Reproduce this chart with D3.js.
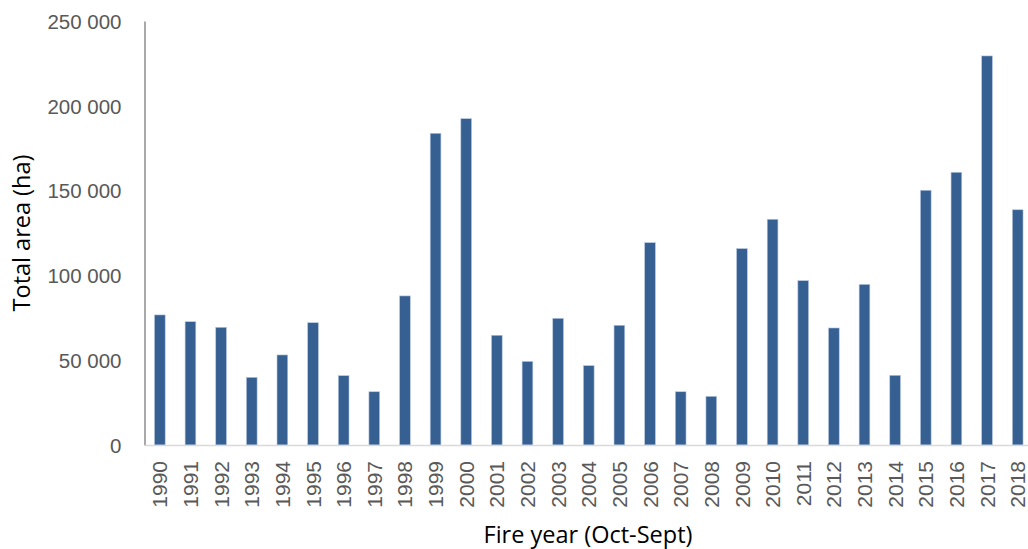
<!DOCTYPE html>
<html>
<head>
<meta charset="utf-8">
<script src="https://cdn.jsdelivr.net/npm/d3@7"></script>
<style>
  body { margin: 0; background: #fff; }
  svg { display: block; font-family: "Open Sans", sans-serif; }
</style>
</head>
<body>
<div id="chart"></div>
<script>
// fire years (Oct-Sept) and total burnt area in hectares
var years = ["1990", "1991", "1992", "1993", "1994", "1995", "1996", "1997", "1998", "1999",
    "2000", "2001", "2002", "2003", "2004", "2005", "2006", "2007", "2008", "2009",
    "2010", "2011", "2012", "2013", "2014", "2015", "2016", "2017", "2018"];
var areas = [76700, 72700, 69400, 39900, 53100, 72100, 40900, 31400, 87900, 183800,
    192400, 64700, 49300, 74700, 46800, 70600, 119300, 31400, 28700, 115800,
    133100, 96900, 69000, 94700, 41100, 150200, 160800, 229400, 138700];
var yTicks = [0, 50000, 100000, 150000, 200000, 250000];

var W = 1028, H = 549;
var plotLeft = 144.5, plotRight = 1033, plotTop = 21, plotBottom = 445;

var data = years.map(function (y, i) {
    return {year: y, value: areas[i]};
});

var svg = d3.select("#chart")
    .append("svg")
    .attr("width", W)
    .attr("height", H);

var xScale = d3.scaleBand()
    .domain(years)
    .range([plotLeft, plotRight])
    .paddingInner(0.65)
    .paddingOuter(0.325);

var yScale = d3.scaleLinear()
    .domain([0, 250000])
    .range([plotBottom, plotTop]);

var fmt = function (d) {
    return d3.format(",")(d).replace(/,/g, " ");
};

//bars
svg.selectAll("rect.bar")
    .data(data)
    .enter()
    .append("rect")
    .attr("class", "bar")
    .attr("x", function (d) { return xScale(d.year); })
    .attr("y", function (d) { return yScale(d.value); })
    .attr("width", xScale.bandwidth())
    .attr("height", function (d) { return plotBottom - yScale(d.value); })
    .attr("fill", "#366092")
    .attr("stroke", "#b8c9e0")
    .attr("stroke-width", 0.6);

//y axis
var yAxis = d3.axisLeft(yScale).tickValues(yTicks).tickFormat(fmt).tickSize(0).tickPadding(23);
var gy = svg.append("g")
    .attr("transform", "translate(" + plotLeft + ",0)")
    .call(yAxis);
gy.select(".domain").attr("stroke", "#8c8c8c").attr("stroke-width", 1.5);
gy.selectAll("text")
    .attr("fill", "#595959")
    .style("font-size", "20.5px")
    .attr("dy", "0.36em");

//x axis
var xAxis = d3.axisBottom(xScale).tickSize(0).tickPadding(0);
var gx = svg.append("g")
    .attr("transform", "translate(0," + plotBottom + ")")
    .call(xAxis);
gx.select(".domain").attr("stroke", "#d9d9d9").attr("stroke-width", 1.5);
gx.selectAll("text")
    .attr("fill", "#595959")
    .style("font-size", "21px")
    .attr("text-anchor", "end")
    .attr("transform", "rotate(-90)")
    .attr("x", -16)
    .attr("y", 0)
    .attr("dy", "0.36em");

//axis titles
svg.append("text")
    .attr("transform", "translate(22," + ((plotTop + plotBottom) / 2) + ") rotate(-90)")
    .attr("text-anchor", "middle")
    .attr("dy", "0.36em")
    .style("font-size", "23.5px")
    .attr("fill", "#000")
    .text("Total area (ha)");

svg.append("text")
    .attr("x", 588)
    .attr("y", 543)
    .attr("text-anchor", "middle")
    .style("font-size", "23.5px")
    .attr("fill", "#000")
    .text("Fire year (Oct-Sept)");
</script>
</body>
</html>
